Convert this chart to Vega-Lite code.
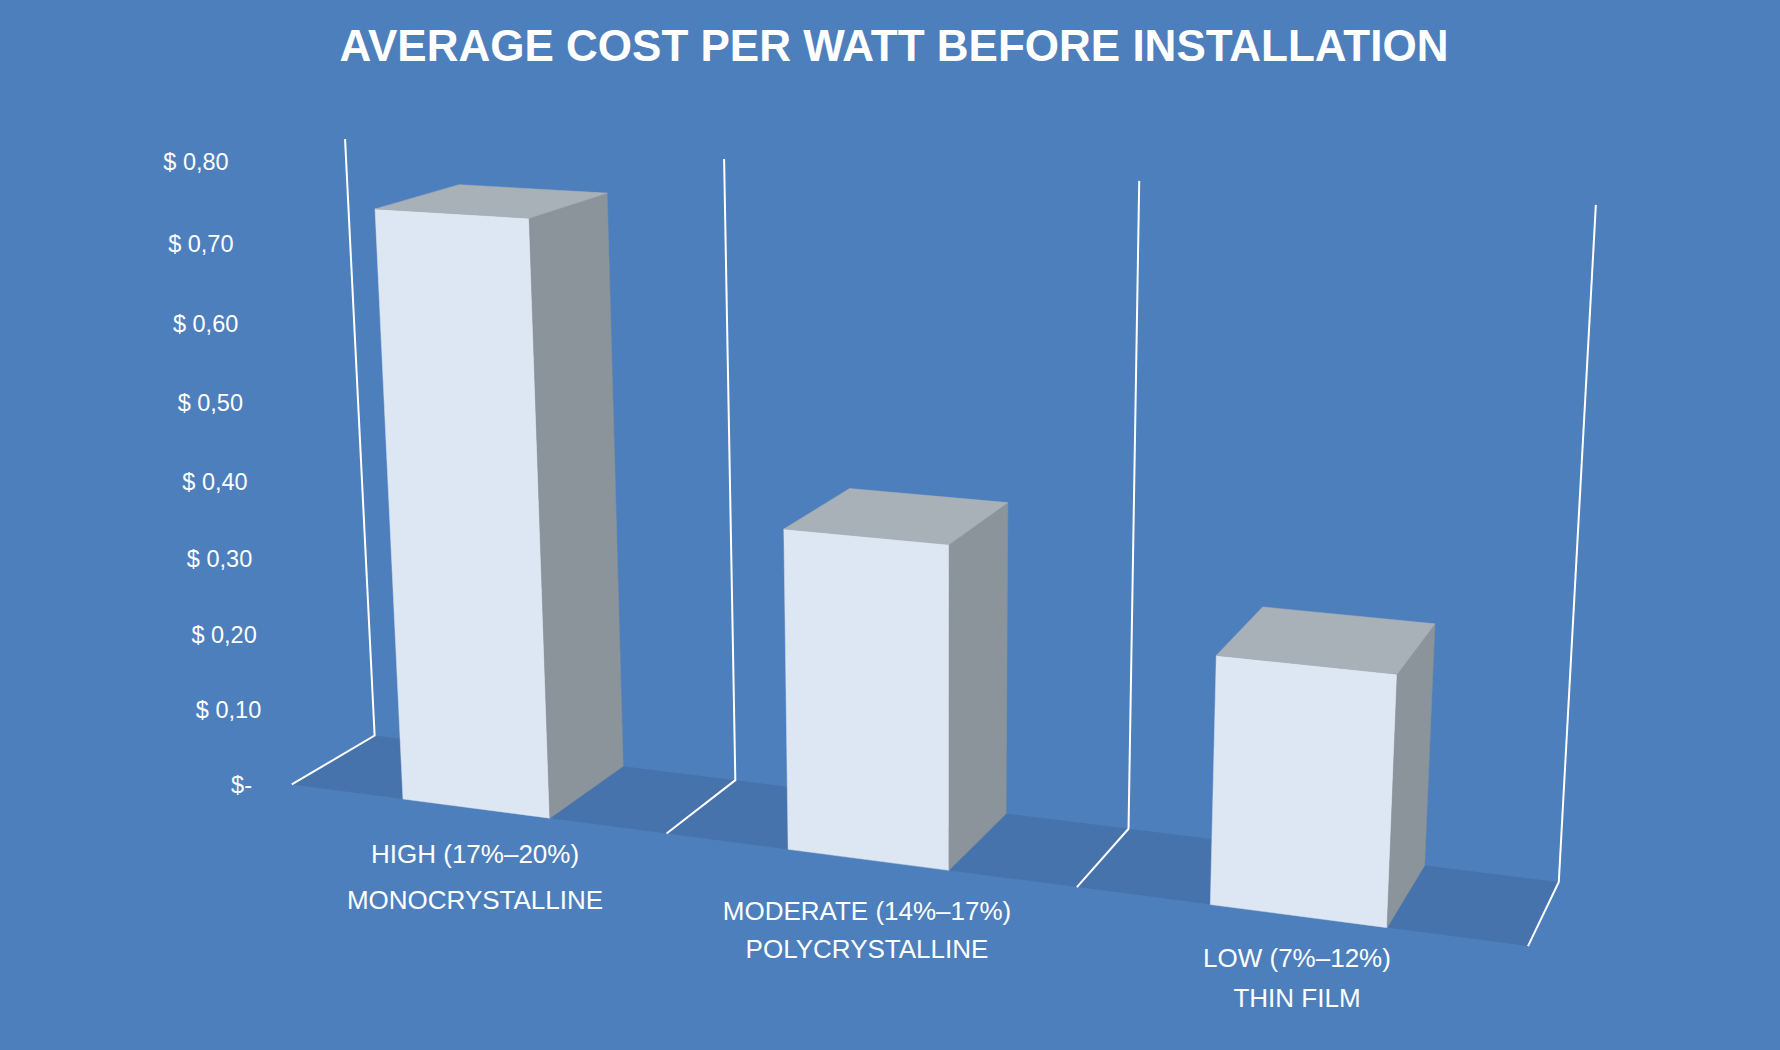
{
"$schema":"https://vega.github.io/schema/vega-lite/v6.json",
"width":1780,"height":1050,"autosize":{"type":"none"},"padding":0,
"background":"#4d7fbc",
"config":{"view":{"stroke":null}},
"title":{"text":"AVERAGE COST PER WATT BEFORE INSTALLATION","font":"Liberation Sans","fontSize":44,"fontWeight":"bold","color":"#ffffff","anchor":"middle","frame":"group","baseline":"alphabetic","offset":-105,"dx":4},
"datasets":{
"bars":[
{"tier":"HIGH (17%–20%)","technology":"MONOCRYSTALLINE","cost":0.75},
{"tier":"MODERATE (14%–17%)","technology":"POLYCRYSTALLINE","cost":0.40},
{"tier":"LOW (7%–12%)","technology":"THIN FILM","cost":0.30}],
"ticks":[
{"cost":0,"label":"$-"},{"cost":0.1,"label":"$ 0,10"},{"cost":0.2,"label":"$ 0,20"},{"cost":0.3,"label":"$ 0,30"},{"cost":0.4,"label":"$ 0,40"},{"cost":0.5,"label":"$ 0,50"},{"cost":0.6,"label":"$ 0,60"},{"cost":0.7,"label":"$ 0,70"},{"cost":0.8,"label":"$ 0,80"}],
"walls":[{"wall":0},{"wall":1},{"wall":2},{"wall":3}]
},
"layer":[
{"data":{"values":[{"part":"floor"}]},
 "transform":[
 {"calculate":"[{n:0,u:0,d:0},{n:1,u:3,d:0},{n:2,u:3,d:1},{n:3,u:0,d:1}]","as":"c"},{"flatten":["c"]},
 {"calculate":"datum.c.u","as":"u"},{"calculate":"datum.c.d","as":"d"},{"calculate":"datum.c.n","as":"n"},{"calculate":"0","as":"h"},
 {"calculate":"1-0.0413*datum.u-0.0452*datum.d-0.062*datum.h","as":"w"},
 {"calculate":"(330+291*datum.u-84.6*datum.d-51.4*datum.h)/datum.w","as":"px"},
 {"calculate":"(648+10.9*datum.u+11.8*datum.d-664.4*datum.h)/datum.w","as":"py"}],
 "mark":{"type":"line","fill":"#4773ad","stroke":null,"interpolate":"linear-closed"},
 "encoding":{"x":{"field":"px","type":"quantitative","scale":{"domain":[0,1568],"nice":false,"zero":false},"axis":null},
 "y":{"field":"py","type":"quantitative","scale":{"domain":[925,0],"nice":false,"zero":false},"axis":null},
 "order":{"field":"n"}}},
{"data":{"name":"walls"},
 "transform":[
 {"calculate":"[{n:0,d:1,z:0},{n:1,d:0,z:0},{n:2,d:0,z:0.8}]","as":"c"},{"flatten":["c"]},
 {"calculate":"datum.wall","as":"u"},{"calculate":"datum.c.d","as":"d"},{"calculate":"datum.c.n","as":"n"},{"calculate":"datum.c.z","as":"h"},
 {"calculate":"1-0.0413*datum.u-0.0452*datum.d-0.062*datum.h","as":"w"},
 {"calculate":"(330+291*datum.u-84.6*datum.d-51.4*datum.h)/datum.w","as":"px"},
 {"calculate":"(648+10.9*datum.u+11.8*datum.d-664.4*datum.h)/datum.w","as":"py"}],
 "mark":{"type":"line","stroke":"#ffffff","strokeWidth":2},
 "encoding":{"x":{"field":"px","type":"quantitative"},"y":{"field":"py","type":"quantitative"},"detail":{"field":"wall"},"order":{"field":"n"}}},
{"data":{"name":"bars"},
 "transform":[
 {"window":[{"op":"row_number","as":"rank"}]},
 {"calculate":"[{f:'front',n:0,a:0,d:1,z:0},{f:'front',n:1,a:1,d:1,z:0},{f:'front',n:2,a:1,d:1,z:1},{f:'front',n:3,a:0,d:1,z:1},{f:'side',n:0,a:1,d:1,z:0},{f:'side',n:1,a:1,d:0,z:0},{f:'side',n:2,a:1,d:0,z:1},{f:'side',n:3,a:1,d:1,z:1},{f:'top',n:0,a:0,d:1,z:1},{f:'top',n:1,a:1,d:1,z:1},{f:'top',n:2,a:1,d:0,z:1},{f:'top',n:3,a:0,d:0,z:1}]","as":"c"},{"flatten":["c"]},
 {"calculate":"datum.rank-1+0.306+0.392*datum.c.a","as":"u"},{"calculate":"datum.c.d","as":"d"},{"calculate":"datum.c.n","as":"n"},{"calculate":"datum.c.f","as":"face"},{"calculate":"datum.c.z*datum.cost","as":"h"},
 {"calculate":"1-0.0413*datum.u-0.0452*datum.d-0.062*datum.h","as":"w"},
 {"calculate":"(330+291*datum.u-84.6*datum.d-51.4*datum.h)/datum.w","as":"px"},
 {"calculate":"(648+10.9*datum.u+11.8*datum.d-664.4*datum.h)/datum.w","as":"py"}],
 "mark":{"type":"line","strokeWidth":0.5,"interpolate":"linear-closed"},
 "encoding":{"x":{"field":"px","type":"quantitative"},"y":{"field":"py","type":"quantitative"},
 "fill":{"field":"face","type":"nominal","scale":{"domain":["front","side","top"],"range":["#dde6f3","#8b939b","#a8b0b8"]},"legend":null},
 "stroke":{"field":"face","type":"nominal","scale":{"domain":["front","side","top"],"range":["#dde6f3","#8b939b","#a8b0b8"]},"legend":null},
 "detail":{"field":"technology"},"order":{"field":"n"}}},
{"data":{"name":"ticks"},
 "transform":[
 {"calculate":"-0.0597","as":"u"},{"calculate":"1.0547","as":"d"},{"calculate":"datum.cost*0.998","as":"h"},
 {"calculate":"1-0.0413*datum.u-0.0452*datum.d-0.062*datum.h","as":"w"},
 {"calculate":"(330+291*datum.u-84.6*datum.d-51.4*datum.h)/datum.w-(datum.cost==0?12:0)","as":"px"},
 {"calculate":"(648+10.9*datum.u+11.8*datum.d-664.4*datum.h)/datum.w+1","as":"py"}],
 "mark":{"type":"text","font":"Liberation Sans","fontSize":23.5,"color":"#ffffff","align":"right","baseline":"middle"},
 "encoding":{"x":{"field":"px","type":"quantitative"},"y":{"field":"py","type":"quantitative"},"text":{"field":"label"}}},
{"data":{"name":"bars"},
 "transform":[
 {"window":[{"op":"row_number","as":"rank"}]},
 {"calculate":"[0,1]","as":"row"},{"flatten":["row"]},
 {"calculate":"datum.row==0?datum.tier:datum.technology","as":"caption"},
 {"calculate":"datum.rank-0.5","as":"u"},{"calculate":"1","as":"d"},
 {"calculate":"1-0.0413*datum.u-0.0452*datum.d","as":"w"},
 {"calculate":"(330+291*datum.u-84.6*datum.d)/datum.w","as":"px"},
 {"calculate":"(648+10.9*datum.u+11.8*datum.d)/datum.w+[41,46,38][datum.rank-1]+datum.row*[41,34,35][datum.rank-1]","as":"py"}],
 "mark":{"type":"text","font":"Liberation Sans","fontSize":26,"color":"#ffffff","align":"center","baseline":"middle"},
 "encoding":{"x":{"field":"px","type":"quantitative"},"y":{"field":"py","type":"quantitative"},"text":{"field":"caption"}}}
]}
